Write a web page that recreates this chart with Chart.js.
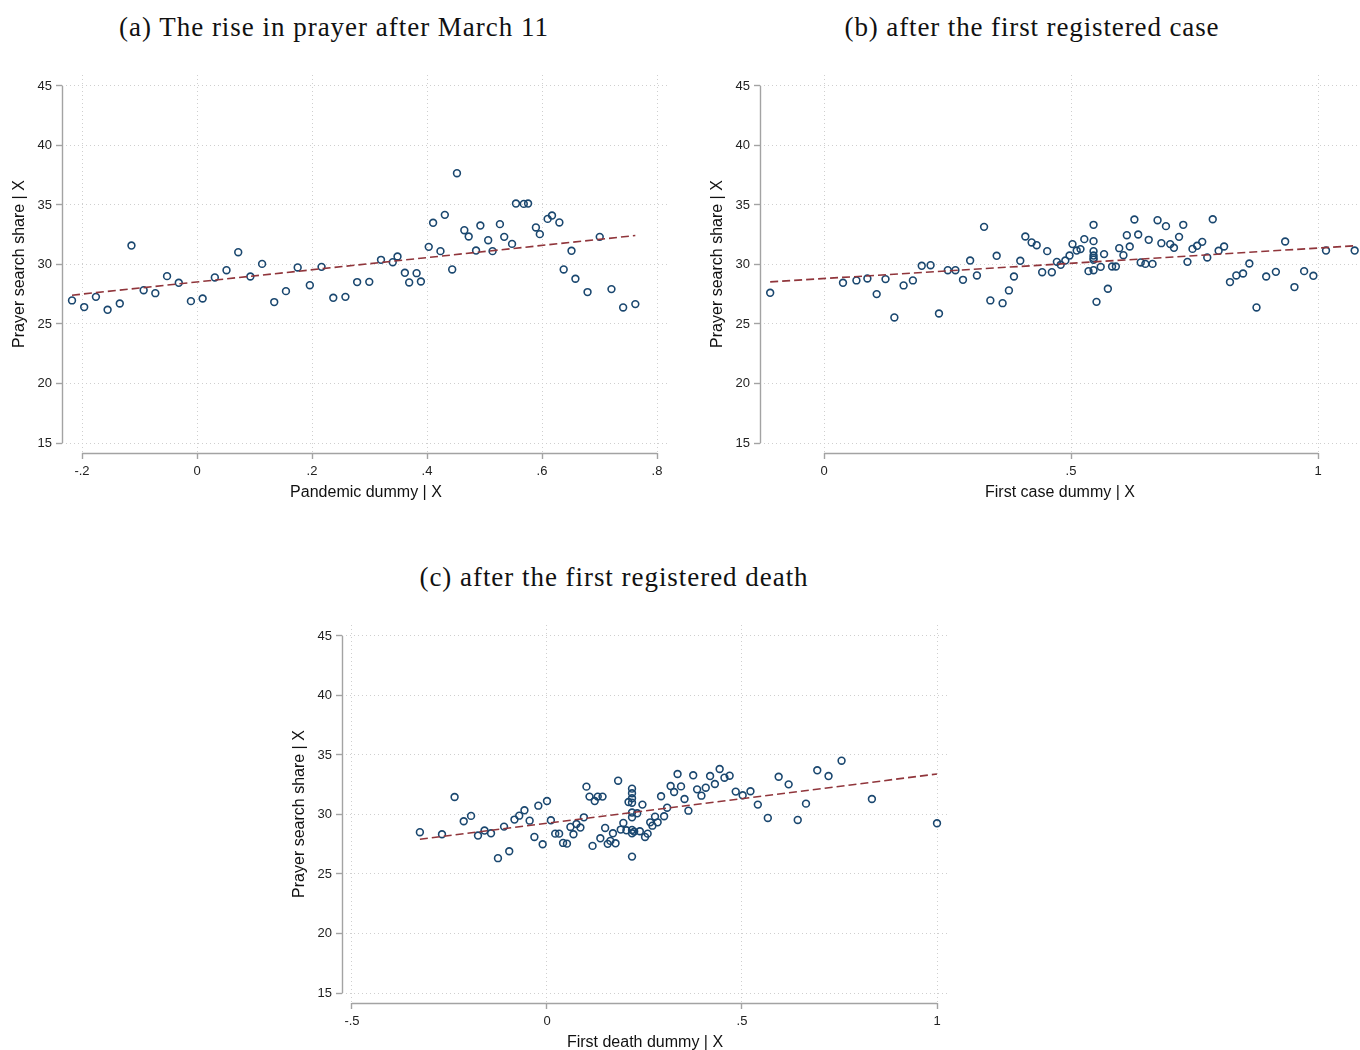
<!DOCTYPE html>
<html>
<head>
<meta charset="utf-8">
<script src="https://cdn.jsdelivr.net/npm/chart.js@4.4.1/dist/chart.umd.min.js"></script>
<style>
  html, body { margin:0; padding:0; background:#fff; }
  body { width:1360px; height:1050px; position:relative; overflow:hidden; }
  canvas { position:absolute; }
  .ttl { position:absolute; font-family:"Liberation Serif", "DejaVu Serif", serif; font-size:27px; color:#111; white-space:nowrap; transform:translateX(-50%); }
</style>
</head>
<body>
<div class="ttl" id="ta" data-w="430" style="left:334px; top:12px;">(a) The rise in prayer after March 11</div>
<div class="ttl" id="tb" data-w="375" style="left:1032px; top:12px;">(b) after the first registered case</div>
<div class="ttl" id="tc" data-w="389" style="left:614px; top:562px;">(c) after the first registered death</div>
<canvas id="ca" width="680" height="505" style="left:0px; top:0px;"></canvas>
<canvas id="cb" width="660" height="505" style="left:700px; top:0px;"></canvas>
<canvas id="cc" width="680" height="505" style="left:280px; top:550px;"></canvas>
<script>
// ---------- tick values / labels ----------
const yTicks = [15, 20, 25, 30, 35, 40, 45];
const aXTicks = [-0.2, 0, 0.2, 0.4, 0.6, 0.8];
const aXTickLabels = ['-.2', '0', '.2', '.4', '.6', '.8'];
const bXTicks = [0, 0.5, 1];
const bXTickLabels = ['0', '.5', '1'];
const cXTicks = [-0.5, 0, 0.5, 1];
const cXTickLabels = ['-.5', '0', '.5', '1'];

// ---------- panel (a): Pandemic dummy | X ----------
const aX = [-0.2174,-0.1962,-0.1758,-0.1555,-0.1343,-0.1140,-0.0928,-0.0725,-0.0521,-0.0317,
  -0.0106,0.0098,0.0310,0.0513,0.0717,0.0928,0.1132,0.1343,0.1547,0.1751,
  0.1962,0.2166,0.2370,0.2581,0.2785,0.2996,0.3200,0.3404,0.3487,0.3615,
  0.3690,0.3819,0.3894,0.4030,0.4106,0.4234,0.4310,0.4438,0.4521,0.4649,
  0.4725,0.4853,0.4928,0.5064,0.5140,0.5268,0.5343,0.5479,0.5547,0.5683,
  0.5758,0.5894,0.5962,0.6098,0.6174,0.6302,0.6377,0.6513,0.6581,0.6792,
  0.7004,0.7208,0.7411,0.7623];
const aY = [26.98,26.42,27.28,26.19,26.72,31.59,27.84,27.59,29.02,28.46,
  26.92,27.14,28.91,29.52,31.03,28.99,30.05,26.84,27.76,29.75,
  28.26,29.80,27.20,27.28,28.52,28.54,30.39,30.19,30.67,29.30,
  28.49,29.27,28.57,31.48,33.50,31.12,34.17,29.58,37.67,32.88,
  32.35,31.17,33.27,32.04,31.12,33.39,32.32,31.73,35.12,35.09,
  35.12,33.11,32.55,33.83,34.11,33.53,29.58,31.15,28.80,27.68,
  32.32,27.93,26.39,26.67];
const aFitX = [-0.2174, 0.7623];
const aFitY = [27.42, 32.43];

// ---------- panel (b): First case dummy | X ----------
const bX = [-0.1090,0.0384,0.0656,0.0878,0.1066,0.1245,0.1424,0.1611,0.1799,0.1978,
  0.2157,0.2327,0.2506,0.2660,0.2813,0.2958,0.3095,0.3240,0.3367,0.3495,
  0.3615,0.3743,0.3845,0.3973,0.4075,0.4203,0.4305,0.4416,0.4518,0.4612,
  0.4714,0.4791,0.4885,0.4970,0.5030,0.5115,0.5192,0.5269,0.5354,0.5456,
  0.5456,0.5456,0.5456,0.5456,0.5456,0.5456,0.5516,0.5601,0.5669,0.5746,
  0.5831,0.5908,0.5976,0.6061,0.6130,0.6189,0.6283,0.6360,0.6411,0.6505,
  0.6573,0.6650,0.6752,0.6829,0.6922,0.7008,0.7084,0.7187,0.7272,0.7357,
  0.7459,0.7553,0.7656,0.7758,0.7869,0.7988,0.8099,0.8218,0.8346,0.8483,
  0.8610,0.8755,0.8951,0.9147,0.9335,0.9523,0.9719,0.9906,1.0162,1.0742];
const bY = [27.62,28.46,28.66,28.82,27.51,28.77,25.55,28.24,28.66,29.89,
  29.94,25.88,29.52,29.52,28.71,30.33,29.08,33.16,26.98,30.73,
  26.75,27.82,28.99,30.31,32.35,31.85,31.62,29.35,31.12,29.35,
  30.22,29.97,30.33,30.75,31.71,31.17,31.29,32.13,29.44,33.33,
  31.96,31.12,30.75,30.55,30.40,29.52,26.86,29.80,30.87,27.96,
  29.83,29.83,31.37,30.78,32.46,31.51,33.78,32.52,30.17,30.05,
  32.07,30.05,33.72,31.79,33.22,31.71,31.40,32.32,33.33,30.22,
  31.31,31.57,31.90,30.59,33.80,31.15,31.51,28.52,29.08,29.24,
  30.08,26.39,28.99,29.38,31.93,28.10,29.44,29.05,31.17,31.17];
const bFitX = [-0.1090, 1.0742];
const bFitY = [28.54, 31.57];

// ---------- panel (c): First death dummy | X ----------
const cX = [-0.3259,-0.2692,-0.2369,-0.2135,-0.1947,-0.1769,-0.1602,-0.1435,-0.1257,-0.1101,
  -0.0968,-0.0834,-0.0712,-0.0578,-0.0445,-0.0323,-0.0222,-0.0111,0.0000,0.0100,
  0.0211,0.0311,0.0412,0.0512,0.0601,0.0679,0.0756,0.0857,0.0946,0.1012,
  0.1090,0.1168,0.1224,0.1301,0.1368,0.1424,0.1491,0.1557,0.1624,0.1691,
  0.1758,0.1824,0.1891,0.1958,0.2036,0.2091,0.2180,0.2180,0.2180,0.2180,
  0.2180,0.2180,0.2180,0.2180,0.2180,0.2236,0.2314,0.2381,0.2447,0.2514,
  0.2581,0.2647,0.2703,0.2770,0.2837,0.2925,0.3003,0.3081,0.3170,0.3259,
  0.3348,0.3437,0.3526,0.3626,0.3749,0.3849,0.3960,0.4071,0.4182,0.4305,
  0.4427,0.4550,0.4683,0.4839,0.5017,0.5217,0.5406,0.5662,0.5940,0.6196,
  0.6429,0.6641,0.6930,0.7219,0.7553,0.8331,1.0000];
const cY = [28.51,28.34,31.47,29.43,29.88,28.23,28.65,28.42,26.33,28.98,
  26.91,29.57,29.90,30.35,29.48,28.11,30.74,27.50,31.13,29.51,
  28.39,28.39,27.61,27.55,28.95,28.34,29.20,28.90,29.76,32.34,
  31.50,27.36,31.13,31.50,28.00,31.50,28.87,27.53,27.78,28.42,
  27.58,32.84,28.73,29.29,28.67,31.05,32.17,31.78,31.36,30.99,
  30.16,29.76,28.70,28.42,26.46,28.56,30.10,28.59,30.83,28.11,
  28.39,29.34,29.06,29.82,29.34,31.53,29.85,30.57,32.39,31.89,
  33.40,32.36,31.30,30.32,33.29,32.11,31.58,32.25,33.23,32.56,
  33.82,33.09,33.26,31.92,31.61,31.95,30.83,29.71,33.17,32.53,
  29.54,30.91,33.71,33.23,34.52,31.30,29.26];
const cFitX = [-0.3259, 1.0000];
const cFitY = [27.92, 33.40];

// ---------- styling ----------
const NAVY = '#1a476f';
const MAROON = '#90353b';
const AXIS = '#a3a3a3';
const GRID = '#cfcfcf';
const SANS = '"Liberation Sans", Arial, sans-serif';

// fit serif titles to the reference widths
document.querySelectorAll('.ttl').forEach(el => {
  const target = +el.dataset.w;
  const w = el.getBoundingClientRect().width;
  const n = el.textContent.length;
  el.style.letterSpacing = ((target - w) / n).toFixed(2) + 'px';
});

const axisPlugin = {
  id: 'stataAxes',
  afterDraw(chart, args, opts) {
    const ctx = chart.ctx, xs = chart.scales.x, ys = chart.scales.y, ca = chart.chartArea;
    ctx.save();
    ctx.strokeStyle = AXIS;
    ctx.lineWidth = 1.4;
    ctx.beginPath();
    const y0 = ys.getPixelForValue(yTicks[0]), y1 = ys.getPixelForValue(yTicks[yTicks.length-1]);
    ctx.moveTo(Math.round(ca.left) + 0.5, y0);
    ctx.lineTo(Math.round(ca.left) + 0.5, y1);
    const xt = opts.xTicks;
    const x0 = xs.getPixelForValue(xt[0]), x1 = xs.getPixelForValue(xt[xt.length-1]);
    ctx.moveTo(x0, Math.round(ca.bottom) + 0.5);
    ctx.lineTo(x1, Math.round(ca.bottom) + 0.5);
    ctx.stroke();
    ctx.restore();
  }
};

function makePanel(id, xs, ys, fx, fy, xTicks, xLabels, xMin, xMax, xTitle, pad, yW, xH) {
  const pts = xs.map((v, i) => ({x: v, y: ys[i]}));
  const fit = fx.map((v, i) => ({x: v, y: fy[i]}));
  return new Chart(document.getElementById(id), {
    type: 'scatter',
    data: {
      datasets: [
        { type: 'line', data: fit, borderColor: MAROON, borderWidth: 1.6, borderDash: [8, 4],
          pointRadius: 0, fill: false, order: 0 },
        { data: pts, pointStyle: 'circle', pointRadius: 3.4, pointBorderWidth: 1.6,
          pointBorderColor: NAVY, pointBackgroundColor: 'rgba(255,255,255,0)', order: 1 }
      ]
    },
    options: {
      responsive: false, animation: false, events: [],
      layout: { padding: pad, autoPadding: false },
      plugins: { legend: { display: false }, tooltip: { enabled: false },
                 stataAxes: { xTicks: xTicks } },
      scales: {
        x: {
          type: 'linear', min: xMin, max: xMax,
          afterBuildTicks: s => { s.ticks = xTicks.map(v => ({value: v})); },
          afterFit: s => { s.height = xH; },
          border: { display: false, dash: [1, 3] },
          grid: { color: GRID, lineWidth: 1, drawTicks: true,
                  tickLength: 6, tickColor: AXIS, tickWidth: 1.4, tickBorderDash: [] },
          ticks: { autoSkip: false, maxRotation: 0, padding: 5, color: '#222',
                   font: { family: SANS, size: 13 },
                   callback: (v, i) => xLabels[i] },
          title: { display: true, text: xTitle, color: '#111', padding: { top: 4, bottom: 0 },
                   font: { family: SANS, size: 16 } }
        },
        y: {
          type: 'linear', min: 14.16, max: 45.92,
          afterBuildTicks: s => { s.ticks = yTicks.map(v => ({value: v})); },
          afterFit: s => { s.width = yW; },
          border: { display: false, dash: [1, 3] },
          grid: { color: GRID, lineWidth: 1, drawTicks: true,
                  tickLength: 6, tickColor: AXIS, tickWidth: 1.4, tickBorderDash: [] },
          ticks: { autoSkip: false, padding: 4, color: '#222',
                   font: { family: SANS, size: 13 },
                   callback: v => String(v) },
          title: { display: true, text: 'Prayer search share | X', color: '#111',
                   padding: { top: 0, bottom: 4 }, font: { family: SANS, size: 16 } }
        }
      }
    },
    plugins: [axisPlugin]
  });
}

makePanel('ca', aX, aY, aFitX, aFitY, aXTicks, aXTickLabels, -0.2348, 0.8226,
  'Pandemic dummy | X', { top: 75, right: 10, left: 10, bottom: 3 }, 52, 49);
makePanel('cb', bX, bY, bFitX, bFitY, bXTicks, bXTickLabels, -0.1296, 1.085,
  'First case dummy | X', { top: 75, right: 0, left: 8, bottom: 3 }, 52, 49);
makePanel('cc', cX, cY, cFitX, cFitY, cXTicks, cXTickLabels, -0.5256, 1.0282,
  'First death dummy | X', { top: 75, right: 12, left: 10, bottom: 3 }, 52, 49);
</script>
</body>
</html>
